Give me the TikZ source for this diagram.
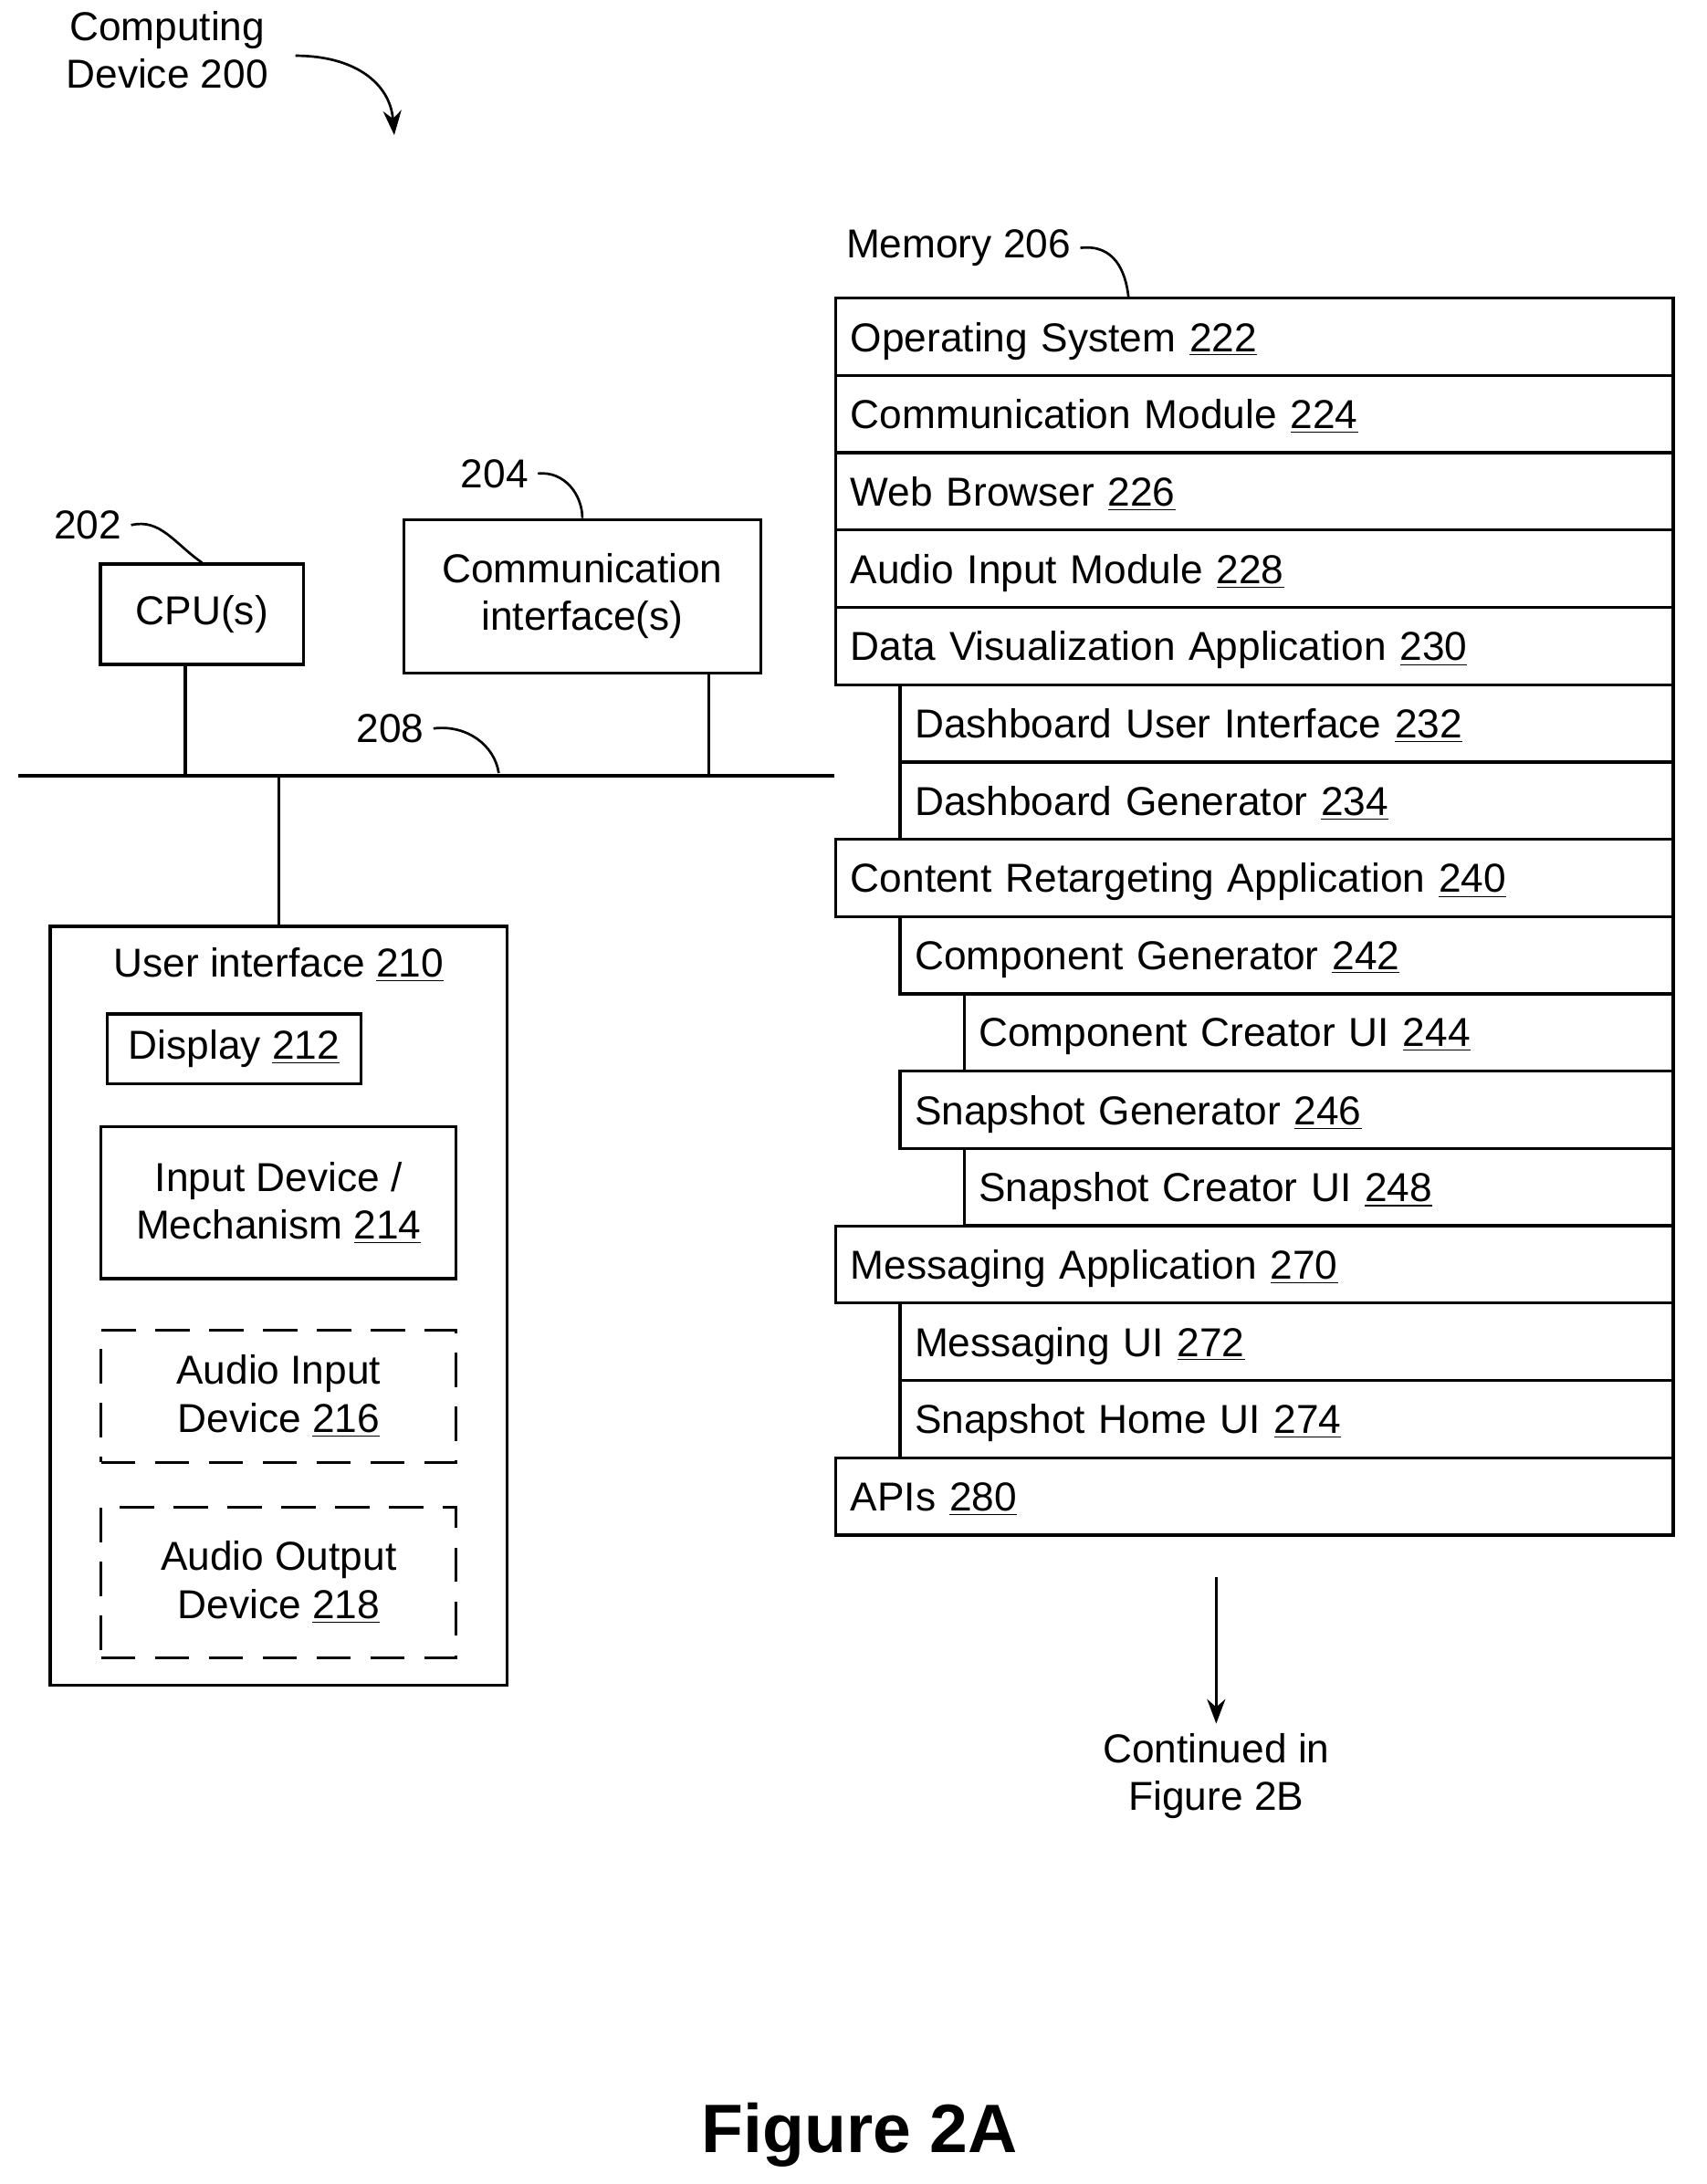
\documentclass[tikz,border=0pt]{standalone}
\usepackage{fontspec}
\setmainfont{Liberation Sans}
\usetikzlibrary{positioning, arrows.meta}
\tikzset{box/.style={draw, line width=1.2pt, align=center, inner sep=0pt},
  row/.style={draw, line width=1.2pt, anchor=north west, inner xsep=6pt, minimum height=1.11cm, text depth=0pt},
  lbl/.style={font=\fontsize{16.5}{19.5}\selectfont},
  lead/.style={line width=1pt}}
\newcommand{\refnum}[1]{\underline{#1}}

\begin{document}
\begin{tikzpicture}[x=0.02cm, y=-0.02cm, lbl, line width=1.2pt]
\useasboundingbox (0,0) rectangle (1225,1568);

\node[align=center] (dev) at (120,36) {Computing\\Device 200};
\draw[lead, -{Stealth[length=10pt]}] (212,40) .. controls (255,40) and (280,60) .. (283,97);

% CPU and communication interface
\node[box, minimum width=2.92cm, minimum height=1.44cm] (cpu) at (145,441) {CPU(s)};
\node (n202) at (63,377) {202};
\draw[lead] (n202.east) .. controls (115,372) and (125,390) .. (cpu.north);
\node[box, minimum width=5.12cm, minimum height=2.2cm] (comm) at (418,428) {Communication\\interface(s)};
\node (n204) at (355,340) {204};
\draw[lead] (n204.east) .. controls (405,338) and (418,355) .. (comm.north);

% bus
\coordinate (busl) at (13,557);
\coordinate (busr) at (599,557);
\draw (busl) -- (busr);
\draw (133,477) -- (133,557);
\draw (509,483) -- (509,557);
\node (n208) at (280,523) {208};
\draw[lead] (n208.east) .. controls (335,520) and (355,535) .. (358,555);

% user interface
\node[box, minimum width=6.56cm, minimum height=10.9cm] (ui) at (200,937.5) {};
\draw (200,557) -- (ui.north);
\node (uit) at (200,693) {User interface \refnum{210}};
\node[box, minimum width=3.64cm, minimum height=1cm] (disp) at (168,753) {Display \refnum{212}};
\node[box, minimum width=5.1cm, minimum height=2.18cm] (input) at (200,863.5) {Input Device /\\Mechanism \refnum{214}};
\node[box, dashed, dash pattern=on 14pt off 8pt, minimum width=5.1cm, minimum height=1.9cm] (ain) at (200,1002.5) {Audio Input\\Device \refnum{216}};
\node[box, dashed, dash pattern=on 14pt off 8pt, minimum width=5.1cm, minimum height=2.16cm] (aout) at (200,1136) {Audio Output\\Device \refnum{218}};

% memory
\foreach \i/\x/\txt in {0/599/Operating System \refnum{222},
  1/599/Communication Module \refnum{224},
  2/599/Web Browser \refnum{226},
  3/599/Audio Input Module \refnum{228},
  4/599/Data Visualization Application \refnum{230},
  5/645/Dashboard User Interface \refnum{232},
  6/645/Dashboard Generator \refnum{234},
  7/599/Content Retargeting Application \refnum{240},
  8/645/Component Generator \refnum{242},
  9/691/Component Creator UI \refnum{244},
  10/645/Snapshot Generator \refnum{246},
  11/691/Snapshot Creator UI \refnum{248},
  12/599/Messaging Application \refnum{270},
  13/645/Messaging UI \refnum{272},
  14/645/Snapshot Home UI \refnum{274},
  15/599/APIs \refnum{280}} {
  \pgfmathsetmacro{\w}{(1200-\x)*0.02}
  \node[row, minimum width=\w cm, text width=\w cm - 12pt] (m\i) at (\x,213+55.5*\i) {\txt};
}
\node (n206) at (688,178) {Memory 206};
\draw[lead] (n206.east) .. controls (800,175) and (808,195) .. (810,213);

\coordinate (cont) at (873,1132);
\node[align=center] (next) at (873,1275) {Continued in\\Figure 2B};
\draw[lead, -{Stealth[length=10pt]}] (cont) -- (next.north);

\node[font=\fontsize{28}{32}\selectfont\bfseries] (fig) at (617,1533) {Figure 2A};
\end{tikzpicture}
\end{document}
